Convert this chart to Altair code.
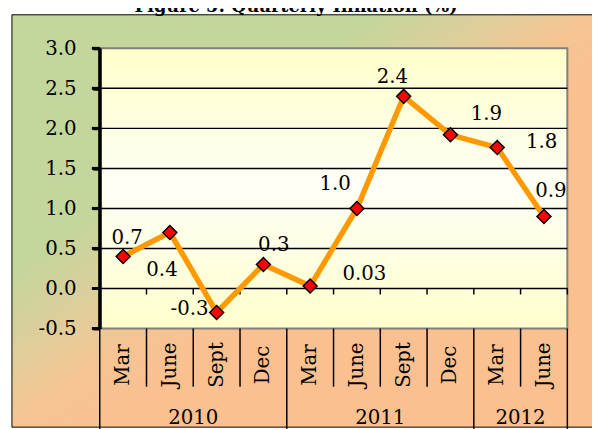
import altair as alt
import pandas as pd

# ---------------- data ----------------
months = ["Mar", "June", "Sept", "Dec", "Mar", "June", "Sept", "Dec", "Mar", "June"]
years = ["2010", "2011", "2012"]
year_counts = [4, 4, 2]
inflation = [0.4, 0.7, -0.3, 0.3, 0.03, 1.0, 2.4, 1.92, 1.76, 0.9]
value_labels = ["0.7", "0.4", "-0.3", "0.3", "0.03", "1.0", "2.4", "1.9", "1.8", "0.9"]
y_ticks = [-0.5, 0.0, 0.5, 1.0, 1.5, 2.0, 2.5, 3.0]
grid_values = [0.0, 0.5, 1.0, 1.5, 2.0, 2.5]
title_text = "Figure 5: Quarterly Inflation (%)"

# label placement offsets (pixels) – layout only
label_dx = [4, -8, -27.5, 10.5, 55, -22, -11.5, 36.5, 45, 7]
label_dy = [-19, 38, -3.5, -20, -12.5, -25, -19.5, -21, -6, -25.5]

# ---------------- layout ----------------
W, H = 474, 284
YMIN, YMAX = -0.5, 3.0
N = len(months)
px_x = W / N
px_y = H / (YMAX - YMIN)
FONT = "DejaVu Serif"

df = pd.DataFrame({
    "pos": [i + 0.5 for i in range(N)],
    "val": inflation,
    "month": months,
    "label": value_labels,
    "lx": [i + 0.5 + label_dx[i] / px_x for i in range(N)],
    "ly": [inflation[i] - label_dy[i] / px_y for i in range(N)],
})

edges = [0]
for c in year_counts:
    edges.append(edges[-1] + c)
year_df = pd.DataFrame({
    "year": years,
    "center": [(edges[i] + edges[i + 1]) / 2 for i in range(len(years))],
})
major_df = pd.DataFrame({"b": edges})
minor_df = pd.DataFrame({"b": [b for b in range(1, N) if b not in edges]})
tick_df = pd.DataFrame({"b": list(range(1, N + 1)), "z": [0.0] * N, "z2": [-0.075] * N})
grid_df = pd.DataFrame({"g": grid_values})
ytick_df = pd.DataFrame({"t": y_ticks})
domain_df = pd.DataFrame({"lo": [YMIN], "hi": [YMAX]})

xs = alt.Scale(domain=[0, N], nice=False, zero=False)
ys = alt.Scale(domain=[YMIN, YMAX], nice=False, zero=False)

y_axis = alt.Axis(
    values=y_ticks,
    labelExpr="replace(format(datum.value, '.1f'), '\u2212', '-')",
    title=None, grid=False,
    domainColor="black", domainWidth=3,
    tickColor="black", tickWidth=3, tickSize=7,
    labelFont=FONT, labelFontSize=20, labelColor="black", labelPadding=17,
    zindex=1,
)

one = alt.Data(values=[{}])

frame_grad = alt.Gradient(
    gradient="linear", x1=0, y1=0, x2=1, y2=1,
    stops=[
        alt.GradientStop(color="#c3d69b", offset=0),
        alt.GradientStop(color="#c3d69b", offset=0.31),
        alt.GradientStop(color="#dccf9b", offset=0.405),
        alt.GradientStop(color="#f6c493", offset=0.50),
        alt.GradientStop(color="#fac090", offset=0.58),
        alt.GradientStop(color="#fac090", offset=1),
    ],
)
plot_grad = alt.Gradient(
    gradient="linear", x1=0, y1=0, x2=0, y2=1,
    stops=[
        alt.GradientStop(color="#ffffca", offset=0),
        alt.GradientStop(color="#fffff6", offset=0.5),
        alt.GradientStop(color="#ffffcc", offset=1),
    ],
)

frame = alt.Chart(one).mark_rect(fill=frame_grad, stroke="black", strokeWidth=1).encode(
    x=alt.value(-89), x2=alt.value(W + 30), y=alt.value(-34), y2=alt.value(H + 100)
)
title = alt.Chart(one).mark_text(
    text=title_text, font=FONT, fontWeight="bold", fontSize=18, color="black",
    align="center", baseline="alphabetic"
).encode(x=alt.value(199), y=alt.value(-37))

plot_bg = alt.Chart(one).mark_rect(fill=plot_grad, stroke="#808080", strokeWidth=2).encode(
    x=alt.value(0), x2=alt.value(W), y=alt.value(0), y2=alt.value(H)
)

grid = alt.Chart(grid_df).mark_rule(color="black", strokeWidth=1.5).encode(
    y=alt.Y("g:Q", scale=ys, axis=y_axis), x=alt.value(0), x2=alt.value(W)
)

zero_ticks = alt.Chart(tick_df).mark_rule(color="black", strokeWidth=1.5).encode(
    x=alt.X("b:Q", scale=xs, axis=None),
    y=alt.Y("z:Q", scale=ys, axis=y_axis), y2="z2:Q"
)

minor_sep = alt.Chart(minor_df).mark_rule(color="black", strokeWidth=1.5).encode(
    x=alt.X("b:Q", scale=xs, axis=None), y=alt.value(H), y2=alt.value(H + 59)
)
major_sep = alt.Chart(major_df).mark_rule(color="black", strokeWidth=1.5).encode(
    x=alt.X("b:Q", scale=xs, axis=None), y=alt.value(H), y2=alt.value(H + 160)
)

# thick value-axis line and outward ticks
axis_line = alt.Chart(domain_df).mark_rule(color="black", strokeWidth=3).encode(
    x=alt.value(0), y=alt.Y("lo:Q", scale=ys, axis=y_axis), y2="hi:Q"
)
axis_ticks = alt.Chart(ytick_df).mark_rule(color="black", strokeWidth=3).encode(
    x=alt.value(-8), x2=alt.value(0), y=alt.Y("t:Q", scale=ys, axis=y_axis)
)

line = alt.Chart(df).mark_line(color="#ff9900", strokeWidth=5.5).encode(
    x=alt.X("pos:Q", scale=xs, axis=None),
    y=alt.Y("val:Q", scale=ys, axis=y_axis),
)
points = alt.Chart(df).mark_point(
    shape="diamond", filled=True, fill="#ff0000", stroke="black", strokeWidth=1.5,
    size=200, opacity=1
).encode(
    x=alt.X("pos:Q", scale=xs, axis=None),
    y=alt.Y("val:Q", scale=ys, axis=y_axis),
)
labels = alt.Chart(df).mark_text(
    font=FONT, fontSize=20, color="black", align="center", baseline="middle"
).encode(
    x=alt.X("lx:Q", scale=xs, axis=None),
    y=alt.Y("ly:Q", scale=ys, axis=y_axis),
    text="label:N",
)
month_text = alt.Chart(df).mark_text(
    font=FONT, fontSize=20, color="black", align="center", baseline="middle", angle=270
).encode(
    x=alt.X("pos:Q", scale=xs, axis=None), y=alt.value(321), text="month:N"
)
year_text = alt.Chart(year_df).mark_text(
    font=FONT, fontSize=20, color="black", align="center", baseline="alphabetic"
).encode(
    x=alt.X("center:Q", scale=xs, axis=None), y=alt.value(381), text="year:N"
)

chart = alt.layer(
    frame, title, plot_bg, grid, zero_ticks, minor_sep, major_sep,
    axis_line, axis_ticks,
    line, points, labels, month_text, year_text
).properties(
    width=W, height=H,
    padding={"left": 93, "top": 38, "right": 25, "bottom": 99},
    autosize=alt.AutoSizeParams(type="none"),
).configure_view(
    stroke=None
).configure_axisY(
    domainColor="black", domainWidth=3, tickColor="black", tickWidth=3, tickSize=7
)

chart.save("out.html", embed_options={"renderer": "svg", "actions": False})
